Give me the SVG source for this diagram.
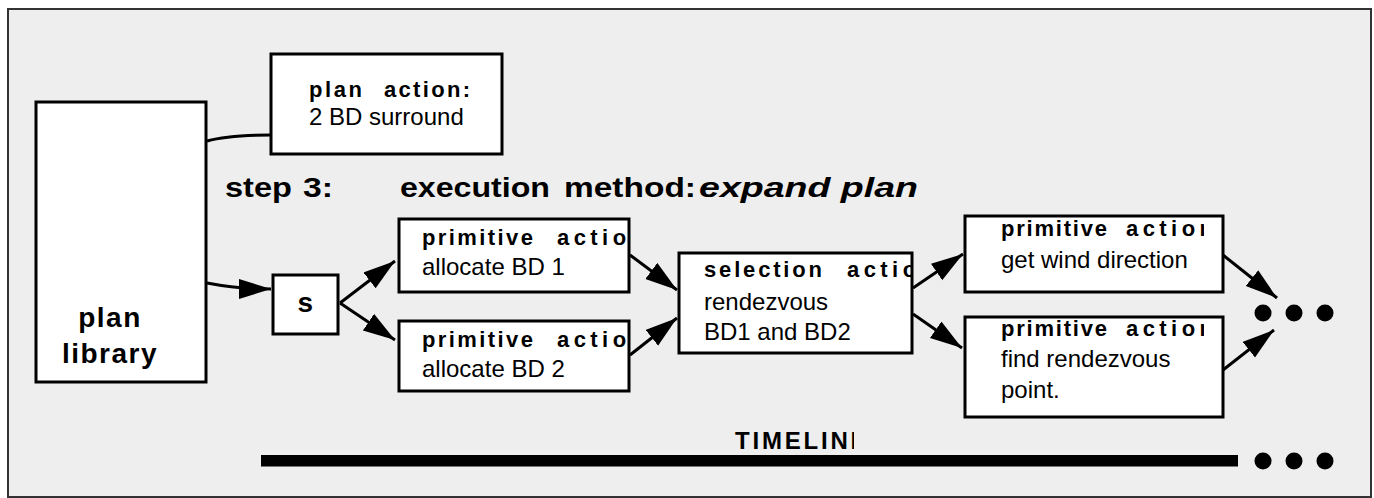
<svg xmlns="http://www.w3.org/2000/svg" width="1374" height="498" viewBox="0 0 1374 498">
<style>
.frame{fill:#eeeeee;stroke:#333;stroke-width:2}
.box{fill:#fff;stroke:#000;stroke-width:3}
.conn{fill:none;stroke:#000;stroke-width:3}
.arr{fill:none;stroke:#000;stroke-width:3;marker-end:url(#ah)}
.t{font-family:"Liberation Sans",Arial,sans-serif;font-size:24px;fill:#000}
.b{font-family:"Liberation Sans",Arial,sans-serif;font-weight:bold;font-size:22px;fill:#000}
.big{font-family:"Liberation Sans",Arial,sans-serif;font-weight:bold;font-size:28px;letter-spacing:1.5px;fill:#000}
.head{font-family:"Liberation Sans",Arial,sans-serif;font-weight:bold;font-size:27px;fill:#000}
.tl{font-family:"Liberation Sans",Arial,sans-serif;font-weight:bold;font-size:24px;letter-spacing:2.8px;fill:#000}
.dot{fill:#000}
</style>
<defs>
<marker id="ah" markerUnits="userSpaceOnUse" markerWidth="34" markerHeight="22" refX="32" refY="10" orient="auto">
<path d="M0,0 L32,10 L0,20 Z" fill="#000"/>
</marker>
<clipPath id="c1"><rect x="399" y="210" width="229" height="200"/></clipPath>
<clipPath id="c2"><rect x="679" y="240" width="232" height="130"/></clipPath>
<clipPath id="c3"><rect x="964" y="200" width="240" height="230"/></clipPath>
<clipPath id="c4"><rect x="700" y="420" width="154" height="40"/></clipPath>
</defs>
<rect class="frame" x="8" y="9" width="1363" height="488"/>

<g id="connectors">
<path class="conn" d="M207,141 Q228,135 271,135"/>
<path class="arr" d="M207,283 Q238,289 271,289"/>
<path class="arr" d="M340,303 L395,261"/>
<path class="arr" d="M340,303 L395,340"/>
<path class="arr" d="M630,255 L677,290"/>
<path class="arr" d="M630,355 L677,318"/>
<path class="arr" d="M913,288 L963,254"/>
<path class="arr" d="M913,314 L962,348"/>
<path class="arr" d="M1223,255 L1277,298"/>
<path class="arr" d="M1223,370 L1274,330"/>
</g>

<g id="plan-library">
<rect class="box" x="36" y="102" width="170" height="280"/>
<text class="big" x="110" y="327" text-anchor="middle">plan</text>
<text class="big" x="110" y="363" text-anchor="middle">library</text>
</g>

<g id="plan-action">
<rect class="box" x="271" y="54" width="231" height="100"/>
<text class="b" x="309" y="97" textLength="53">plan</text>
<text class="b" x="384" y="97" textLength="86">action:</text>
<text class="t" x="309" y="125">2 BD surround</text>
</g>

<g id="heading">
<text class="head" x="225" y="197" textLength="67" lengthAdjust="spacingAndGlyphs">step</text>
<text class="head" x="303" y="197" textLength="30" lengthAdjust="spacingAndGlyphs">3:</text>
<text class="head" x="400" y="197" textLength="150" lengthAdjust="spacingAndGlyphs">execution</text>
<text class="head" x="564" y="197" textLength="132" lengthAdjust="spacingAndGlyphs">method:</text>
<text class="head" x="699" y="197" textLength="219" lengthAdjust="spacingAndGlyphs" font-style="italic">expand plan</text>
</g>

<g id="s">
<rect class="box" x="273" y="275" width="65" height="59"/>
<text class="big" x="306" y="312" text-anchor="middle">s</text>
</g>

<g id="prim1">
<rect class="box" x="399" y="219" width="230" height="73"/>
<g clip-path="url(#c1)">
<text class="b" x="422" y="245" textLength="111">primitive</text>
<text class="b" x="557" y="245" textLength="87">action</text>
</g>
<text class="t" x="422" y="275">allocate BD 1</text>
</g>

<g id="prim2">
<rect class="box" x="399" y="321" width="230" height="70"/>
<g clip-path="url(#c1)">
<text class="b" x="422" y="347" textLength="111">primitive</text>
<text class="b" x="557" y="347" textLength="87">action</text>
</g>
<text class="t" x="422" y="377">allocate BD 2</text>
</g>

<g id="selection">
<rect class="box" x="679" y="253" width="233" height="100"/>
<g clip-path="url(#c2)">
<text class="b" x="704" y="277" textLength="118">selection</text>
<text class="b" x="847" y="277" textLength="87">action</text>
</g>
<text class="t" x="704" y="310">rendezvous</text>
<text class="t" x="704" y="340">BD1 and BD2</text>
</g>

<g id="wind">
<rect class="box" x="965" y="216" width="258" height="76"/>
<g clip-path="url(#c3)">
<text class="b" x="1001" y="236" textLength="106">primitive</text>
<text class="b" x="1126" y="236" textLength="87">action</text>
</g>
<text class="t" x="1001" y="268">get wind direction</text>
</g>

<g id="find">
<rect class="box" x="965" y="317" width="258" height="100"/>
<g clip-path="url(#c3)">
<text class="b" x="1001" y="336" textLength="106">primitive</text>
<text class="b" x="1126" y="336" textLength="87">action</text>
</g>
<text class="t" x="1001" y="367">find rendezvous</text>
<text class="t" x="1001" y="398">point.</text>
</g>

<g id="dots-top">
<circle class="dot" cx="1263" cy="313" r="8.5"/>
<circle class="dot" cx="1294" cy="313" r="8.5"/>
<circle class="dot" cx="1325" cy="313" r="8.5"/>
</g>

<g id="timeline">
<rect x="261" y="455" width="977" height="11.5" fill="#000"/>
<g clip-path="url(#c4)">
<text class="tl" x="735" y="449">TIMELINE</text>
</g>
<circle class="dot" cx="1263" cy="461" r="8.5"/>
<circle class="dot" cx="1294" cy="461" r="8.5"/>
<circle class="dot" cx="1325" cy="461" r="8.5"/>
</g>
</svg>
